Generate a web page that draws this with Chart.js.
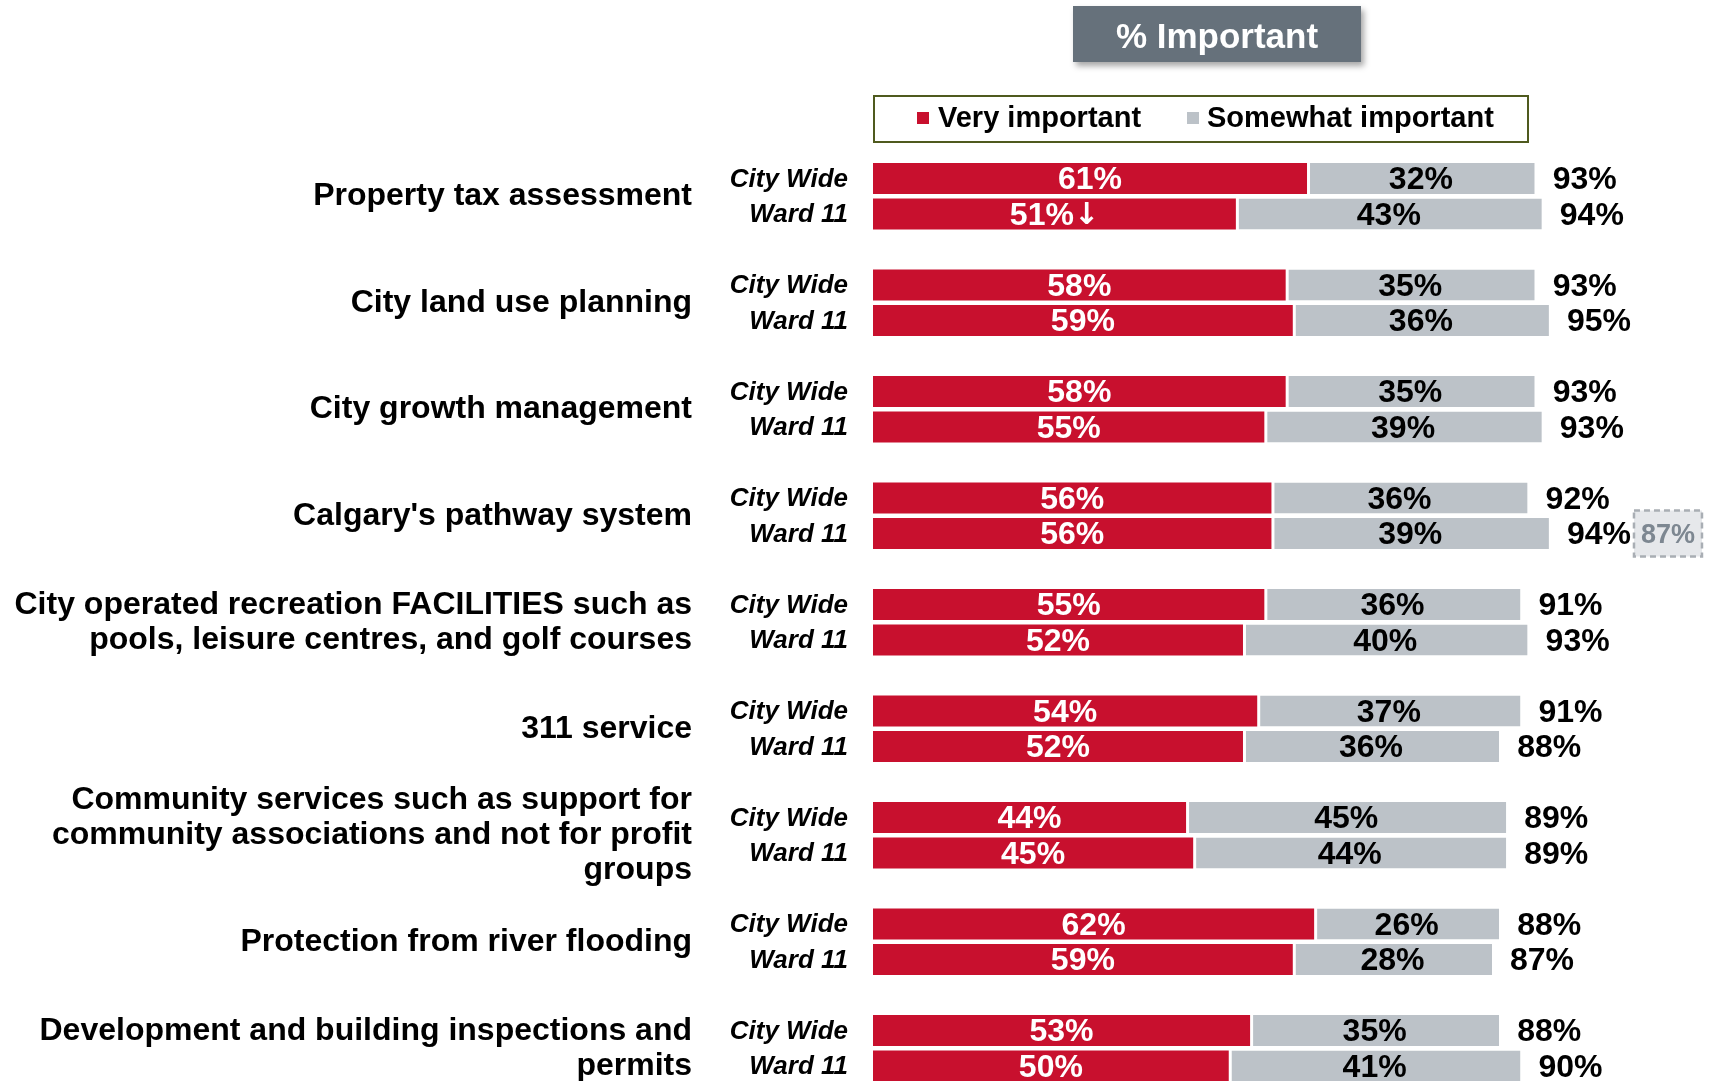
<!DOCTYPE html>
<html><head><meta charset="utf-8">
<script src="https://cdn.jsdelivr.net/npm/chart.js@4.4.1/dist/chart.umd.min.js"></script>
<style>
html,body{margin:0;padding:0;background:#fff;overflow:hidden;width:1714px;height:1081px}
#wrap{position:absolute;left:0;top:0;width:1714px;height:1084px}
</style>
</head><body>
<div id="wrap"><canvas id="c" width="1714" height="1084"></canvas></div>
<script>
// ---- data ----
const categories = [
  ["Property tax assessment"],
  ["City land use planning"],
  ["City growth management"],
  ["Calgary's pathway system"],
  ["City operated recreation FACILITIES such as", "pools, leisure centres, and golf courses"],
  ["311 service"],
  ["Community services such as support for", "community associations and not for profit", "groups"],
  ["Protection from river flooding"],
  ["Development and building inspections and", "permits"]
];
const subLabels = ["City Wide", "Ward 11"];
const seriesNames = ["Very important", "Somewhat important"];
const chartTitle = "% Important";
const cityWideVery     = [61, 58, 58, 56, 55, 54, 44, 62, 53];
const cityWideSomewhat = [32, 35, 35, 36, 36, 37, 45, 26, 35];
const cityWideTotal    = [93, 93, 93, 92, 91, 91, 89, 88, 88];
const ward11Very       = [51, 59, 55, 56, 52, 52, 45, 59, 50];
const ward11Somewhat   = [43, 36, 39, 39, 40, 36, 44, 28, 41];
const ward11Total      = [94, 95, 93, 94, 93, 88, 89, 87, 90];
const ward11Lower      = [true, false, false, false, false, false, false, false, false];
const ward11Previous   = [null, null, null, 87, null, null, null, null, null];

// ---- build slots (City Wide, Ward 11, spacer) ----
const slotLabels = [], verySlots = [], someSlots = [], totalSlots = [], slotInfo = [];
categories.forEach((c, g) => {
  slotLabels.push(subLabels[0]); verySlots.push(cityWideVery[g]); someSlots.push(cityWideSomewhat[g]);
  totalSlots.push(cityWideTotal[g]); slotInfo.push({g, ward:false});
  slotLabels.push(subLabels[1]); verySlots.push(ward11Very[g]); someSlots.push(ward11Somewhat[g]);
  totalSlots.push(ward11Total[g]); slotInfo.push({g, ward:true});
  if (g < categories.length - 1) {
    slotLabels.push(""); verySlots.push(null); someSlots.push(null); totalSlots.push(null); slotInfo.push(null);
  }
});

const RED = '#c8102e', GRAY = '#bcc2c8';
const F = '"Liberation Sans", Arial, sans-serif';

const decor = {
  id: 'decor',
  afterDatasetsDraw(chart) {
    const ctx = chart.ctx, ys = chart.scales.y;
    const m0 = chart.getDatasetMeta(0), m1 = chart.getDatasetMeta(1);
    ctx.save();
    // title box
    ctx.save();
    ctx.shadowColor = 'rgba(0,0,0,0.35)'; ctx.shadowBlur = 6; ctx.shadowOffsetX = 3; ctx.shadowOffsetY = 4;
    ctx.fillStyle = '#66717b'; ctx.fillRect(1073, 6, 288, 56);
    ctx.restore();
    ctx.fillStyle = '#fff'; ctx.font = 'bold 35px ' + F; ctx.textAlign = 'center'; ctx.textBaseline = 'middle';
    ctx.fillText(chartTitle, 1217, 38);
    // legend
    ctx.strokeStyle = '#4f5a1e'; ctx.lineWidth = 2; ctx.strokeRect(874, 96, 654, 46);
    ctx.font = 'bold 29px ' + F; ctx.textAlign = 'left'; ctx.fillStyle = '#000';
    const ds = chart.data.datasets;
    ctx.fillStyle = ds[0].backgroundColor; ctx.fillRect(917, 112, 12, 12);
    ctx.fillStyle = '#000'; ctx.fillText(ds[0].label, 938, 119);
    ctx.fillStyle = ds[1].backgroundColor; ctx.fillRect(1187, 112, 12, 12);
    ctx.fillStyle = '#000'; ctx.fillText(ds[1].label, 1207, 119);

    slotInfo.forEach((info, i) => {
      if (!info) return;
      const y = ys.getPixelForValue(i);
      // sub labels
      ctx.font = 'italic bold 26px ' + F; ctx.textAlign = 'right'; ctx.fillStyle = '#000';
      ctx.fillText(slotLabels[i], 848, y + 1);
      // in-bar labels
      const e0 = m0.data[i], e1 = m1.data[i];
      ctx.font = 'bold 32px ' + F;
      ctx.fillStyle = '#fff';
      const t0 = verySlots[i] + '%';
      const cx0 = (e0.base + e0.x) / 2;
      if (info.ward && ward11Lower[info.g]) {
        const w1 = ctx.measureText(t0).width;
        ctx.font = 'bold 30px "DejaVu Sans", sans-serif';
        const arrow = '\u2193';
        const w2 = ctx.measureText(arrow).width;
        const sx = cx0 - (w1 + w2) / 2;
        ctx.textAlign = 'left';
        ctx.fillText(arrow, sx + w1, y + 2);
        ctx.font = 'bold 32px ' + F;
        ctx.fillText(t0, sx, y + 2);
      } else {
        ctx.textAlign = 'center';
        ctx.fillText(t0, cx0, y + 2);
      }
      ctx.textAlign = 'center';
      ctx.fillStyle = '#000';
      ctx.fillText(someSlots[i] + '%', (e1.base + e1.x) / 2, y + 2);
      // totals
      ctx.textAlign = 'left';
      const tx = e1.x + 18, tt = totalSlots[i] + '%';
      ctx.fillText(tt, tx, y + 2);
      if (info.ward && ward11Previous[info.g] != null) {
        const bx = tx + ctx.measureText(tt).width + 3;
        ctx.save();
        ctx.fillStyle = '#e6e8eb'; ctx.fillRect(bx, y - 23, 68, 46);
        ctx.setLineDash([6, 4]); ctx.strokeStyle = '#a9aeb4'; ctx.lineWidth = 2.5;
        ctx.strokeRect(bx, y - 23, 68, 46);
        ctx.restore();
        ctx.font = 'bold 27px ' + F; ctx.fillStyle = '#7d8791'; ctx.textAlign = 'center';
        ctx.fillText(ward11Previous[info.g] + '%', bx + 34, y + 2);
      }
    });
    // group labels
    ctx.font = 'bold 32px ' + F; ctx.textAlign = 'right'; ctx.fillStyle = '#000';
    categories.forEach((lines, g) => {
      const idx = slotInfo.findIndex(s => s && s.g === g);
      const yc = (ys.getPixelForValue(idx) + ys.getPixelForValue(idx + 1)) / 2;
      const lh = 35;
      lines.forEach((ln, k) => {
        ctx.fillText(ln, 692, yc + (k - (lines.length - 1) / 2) * lh);
      });
    });
    ctx.restore();
  }
};

new Chart(document.getElementById('c'), {
  type: 'bar',
  data: {
    labels: slotLabels,
    datasets: [
      { label: seriesNames[0], data: verySlots, backgroundColor: RED, borderWidth: 0 },
      { label: seriesNames[1], data: someSlots, backgroundColor: GRAY, borderColor: '#ffffff',
        borderWidth: { left: 3, right: 0, top: 0, bottom: 0 }, borderSkipped: false }
    ]
  },
  options: {
    indexAxis: 'y',
    responsive: false,
    animation: false,
    barPercentage: 31 / 35.5,
    categoryPercentage: 1,
    layout: { padding: { left: 873, right: 0, top: 160.75, bottom: 0.25 } },
    scales: {
      x: { stacked: true, min: 0, max: 118.2, display: false },
      y: { stacked: true, display: false }
    },
    plugins: { legend: { display: false }, tooltip: { enabled: false } }
  },
  plugins: [decor]
});
</script>
</body></html>
